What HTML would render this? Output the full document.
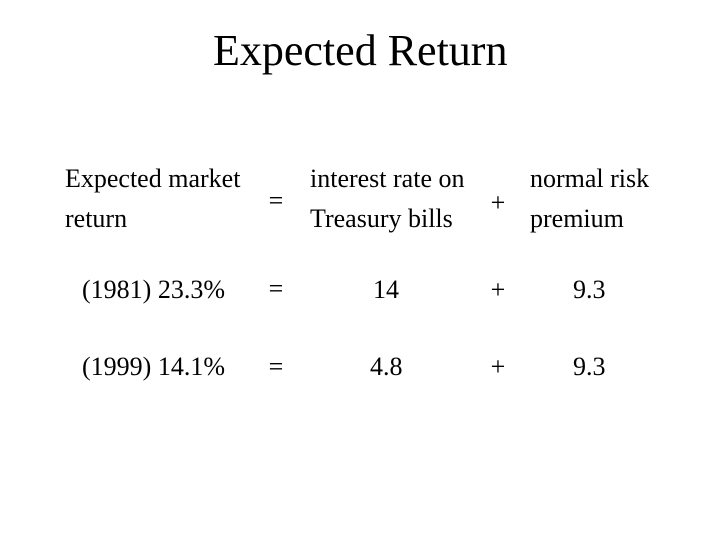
<!DOCTYPE html>
<html>
<head>
<meta charset="utf-8">
<style>
html,body{margin:0;padding:0;background:#fff;}
svg{display:block;}
text{font-family:"Liberation Serif","Times New Roman",serif;fill:#000;}
</style>
</head>
<body>
<svg width="720" height="540" viewBox="0 0 720 540" xmlns="http://www.w3.org/2000/svg">
<rect width="720" height="540" fill="#fff"/>
<text x="213" y="65" font-size="44">Expected Return</text>

<text x="65" y="187" font-size="26">Expected market</text>
<text x="65" y="227" font-size="26">return</text>
<text x="276" y="209" font-size="26" text-anchor="middle">=</text>
<text x="310" y="187" font-size="26">interest rate on</text>
<text x="310" y="227" font-size="26">Treasury bills</text>
<text x="498" y="211" font-size="26" text-anchor="middle">+</text>
<text x="530" y="187" font-size="26">normal risk</text>
<text x="530" y="227" font-size="26">premium</text>

<text x="82" y="298" font-size="26">(1981) 23.3%</text>
<text x="276" y="297" font-size="26" text-anchor="middle">=</text>
<text x="373" y="298" font-size="26">14</text>
<text x="498" y="298" font-size="26" text-anchor="middle">+</text>
<text x="573" y="298" font-size="26">9.3</text>

<text x="82" y="375" font-size="26">(1999) 14.1%</text>
<text x="276" y="375" font-size="26" text-anchor="middle">=</text>
<text x="370" y="375" font-size="26">4.8</text>
<text x="498" y="375" font-size="26" text-anchor="middle">+</text>
<text x="573" y="375" font-size="26">9.3</text>
</svg>
</body>
</html>
